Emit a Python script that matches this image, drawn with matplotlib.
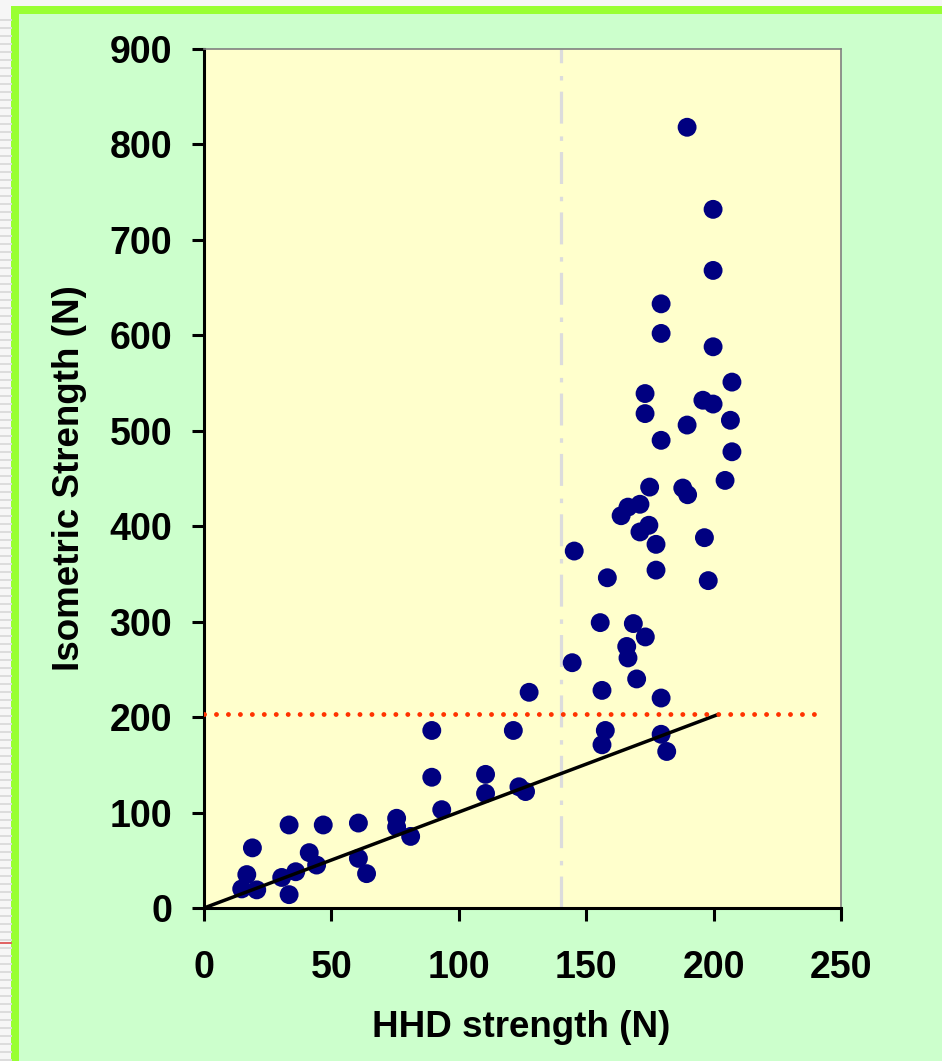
import matplotlib.pyplot as plt
from matplotlib.lines import Line2D
from matplotlib.patches import Rectangle

plt.rcParams['font.family'] = ['Liberation Sans', 'DejaVu Sans']
plt.rcParams['font.weight'] = 'bold'

# HHD strength (N) vs isometric strength (N)
hhd = [189.6, 199.8, 199.8, 179.4, 179.4, 199.8, 207.2, 173.1, 195.8, 199.8,
       173.1, 206.6, 189.6, 179.4, 207.2, 204.5, 174.9, 187.9, 189.8,
       171.1, 166.4, 163.7, 174.6, 171.1, 196.4, 177.4, 145.3, 177.4, 158.3,
       197.9, 155.5, 168.5, 173.2, 165.9, 166.4, 144.5, 169.8, 156.2, 179.4,
       157.5, 156.2, 179.4, 181.6,
       127.6, 89.4, 121.4, 89.4, 110.5, 110.5, 123.6, 126.2, 93.3, 75.6,
       75.6, 81.1, 60.6, 46.8, 33.4, 19.0, 41.3, 60.6, 44.2, 36.0,
       30.5, 63.8, 16.8, 14.8, 20.7, 33.4]
iso = [818, 732, 668, 633, 602, 588, 551, 539, 532, 528,
       518, 511, 506, 490, 478, 448, 441, 440, 433,
       423, 420, 411, 401, 394, 388, 381, 374, 354, 346,
       343, 299, 298, 284, 274, 262, 257, 240, 228, 220,
       186, 171, 182, 164,
       226, 186, 186, 137, 140, 120, 127, 122, 103, 94,
       85, 75, 89, 87, 87, 63, 58, 52, 45, 38,
       32, 36, 35, 20, 19, 14]

fit_x = [0, 202]
fit_y = [0, 203]
thresh_x = [0, 243]
thresh_y = [203.5, 203.5]
cut_x = [140, 140]
cut_y = [0, 900]

fig = plt.figure(figsize=(9.42, 10.61), dpi=100, facecolor='#CCFFCC')

# slide decoration: striped strip on the left, green frame
fig.patches.append(Rectangle((0, 0), 11 / 942, 1, transform=fig.transFigure,
                             facecolor='#F6F6F6', edgecolor='none', zorder=0))
for yp in range(20, 1061, 8):
    fig.lines.append(Line2D([0, 11 / 942], [1 - yp / 1061] * 2, transform=fig.transFigure,
                            color='#DCDCDC', lw=1.4))
fig.lines.append(Line2D([0, 11 / 942], [1 - 943 / 1061] * 2, transform=fig.transFigure,
                        color='#E06060', lw=1.4))
fig.patches.append(Rectangle((11 / 942, 1 - 6 / 1061), 1, 6 / 1061, transform=fig.transFigure,
                             facecolor='#F6F6F6', edgecolor='none', zorder=0))
fig.patches.append(Rectangle((11 / 942, 0), 8 / 942, 1 - 6 / 1061, transform=fig.transFigure,
                             facecolor='#99FF33', edgecolor='none', zorder=1))
fig.patches.append(Rectangle((11 / 942, 1 - 14 / 1061), 1, 8 / 1061, transform=fig.transFigure,
                             facecolor='#99FF33', edgecolor='none', zorder=1))

ax = fig.add_axes([204 / 942, 1 - 908 / 1061, 637 / 942, 859 / 1061])
ax.set_facecolor('#FFFFCC')

ax.plot(cut_x, cut_y, color='#DCDCDC', lw=2.3, linestyle=(0, (10, 3.5, 1.4, 4)), zorder=1)
ax.scatter(hhd, iso, s=185, color='#000080', edgecolors='none', zorder=2)
ax.plot(fit_x, fit_y, color='black', lw=2.5, solid_capstyle='butt', zorder=3)
ax.plot(thresh_x, thresh_y, color='#FF3300', lw=3.5, linestyle=(0, (0.01, 2.45)),
        dash_capstyle='round', zorder=3)

ax.set_xlim(0, 250)
ax.set_ylim(0, 900)
ax.set_xticks([0, 50, 100, 150, 200, 250])
ax.set_yticks(range(0, 901, 100))
ax.tick_params(axis='both', direction='out', length=9, width=2.2, labelsize=27)
ax.tick_params(axis='x', pad=21)
ax.tick_params(axis='y', pad=14)
for lab in ax.get_xticklabels() + ax.get_yticklabels():
    lab.set_fontweight('bold')

for side in ['left', 'bottom']:
    ax.spines[side].set_linewidth(2.2)
    ax.spines[side].set_color('black')
for side in ['top', 'right']:
    ax.spines[side].set_linewidth(1.2)
    ax.spines[side].set_color('#808080')

ax.set_xlabel('HHD strength (N)', fontsize=26.5, fontweight='bold')
ax.set_ylabel('Isometric Strength (N)', fontsize=26.5, fontweight='bold')
ax.xaxis.set_label_coords(0.498, -0.119)
ax.yaxis.set_label_coords(-0.183, 0.5)

plt.savefig('out.png', dpi=100, facecolor=fig.get_facecolor())
